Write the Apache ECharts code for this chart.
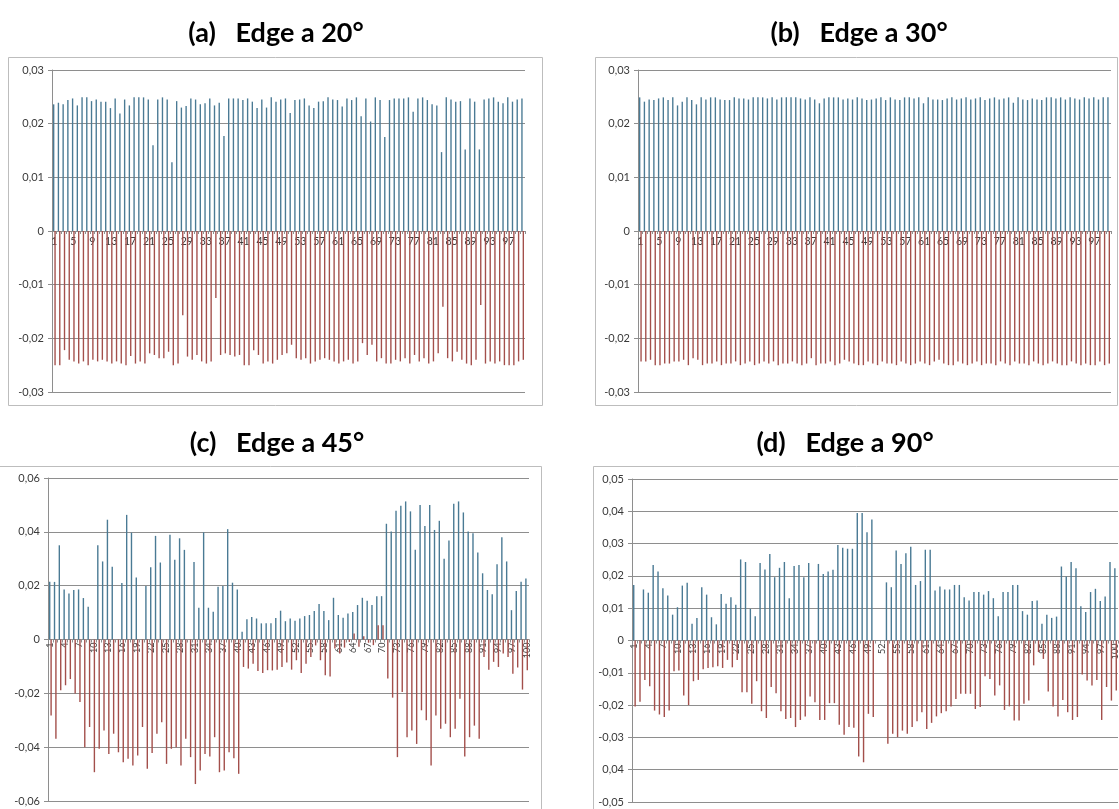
<!DOCTYPE html>
<html>
<head>
<meta charset="utf-8">
<script src="https://cdn.jsdelivr.net/npm/echarts@6/dist/echarts.min.js"></script>
<style>
  html, body { margin: 0; padding: 0; background: #ffffff; }
  #chart { width: 1119px; height: 809px; }
</style>
</head>
<body>
<div id="chart"></div>
<script>
// Category labels: sample index 1..100
const categories = Array.from({ length: 100 }, (_, i) => String(i + 1));

// Panel titles
const titles = ['(a)   Edge a 20°', '(b)   Edge a 30°', '(c)   Edge a 45°', '(d)   Edge a 90°'];

// Y tick labels (comma decimals)
const yTicksAB = ['-0,03', '-0,02', '-0,01', '0', '0,01', '0,02', '0,03'];
const yTicksC = ['-0,06', '-0,04', '-0,02', '0', '0,02', '0,04', '0,06'];
const yTicksD = ['-0,05', '0,04', '-0,03', '-0,02', '-0,01', '0', '0,01', '0,02', '0,03', '0,04', '0,05'];

// (a) Edge a 20°
const aPos = [
  0.0236, 0.0239, 0.0236, 0.0244, 0.0247, 0.0234, 0.0249, 0.0249, 0.0242, 0.0245,
  0.0241, 0.0241, 0.0229, 0.0247, 0.0219, 0.0245, 0.0234, 0.0249, 0.0249, 0.0249,
  0.0245, 0.0160, 0.0245, 0.0249, 0.0245, 0.0128, 0.0242, 0.0230, 0.0233, 0.0247,
  0.0245, 0.0236, 0.0238, 0.0247, 0.0234, 0.0239, 0.0177, 0.0247, 0.0247, 0.0247,
  0.0244, 0.0247, 0.0241, 0.0229, 0.0245, 0.0230, 0.0249, 0.0241, 0.0245, 0.0247,
  0.0220, 0.0244, 0.0245, 0.0247, 0.0234, 0.0229, 0.0241, 0.0242, 0.0249, 0.0245,
  0.0244, 0.0232, 0.0247, 0.0244, 0.0249, 0.0214, 0.0247, 0.0204, 0.0249, 0.0244,
  0.0175, 0.0244, 0.0247, 0.0247, 0.0247, 0.0249, 0.0222, 0.0247, 0.0249, 0.0244,
  0.0236, 0.0234, 0.0147, 0.0249, 0.0245, 0.0241, 0.0242, 0.0152, 0.0247, 0.0241,
  0.0152, 0.0245, 0.0247, 0.0249, 0.0241, 0.0238, 0.0249, 0.0241, 0.0245, 0.0247
];
const aNeg = [
  -0.0250, -0.0250, -0.0222, -0.0240, -0.0243, -0.0247, -0.0243, -0.0250, -0.0240, -0.0243,
  -0.0240, -0.0243, -0.0247, -0.0243, -0.0247, -0.0250, -0.0233, -0.0247, -0.0243, -0.0247,
  -0.0228, -0.0231, -0.0237, -0.0237, -0.0225, -0.0250, -0.0247, -0.0157, -0.0234, -0.0240,
  -0.0231, -0.0243, -0.0247, -0.0243, -0.0125, -0.0231, -0.0228, -0.0231, -0.0234, -0.0231,
  -0.0250, -0.0250, -0.0222, -0.0231, -0.0247, -0.0243, -0.0247, -0.0240, -0.0231, -0.0228,
  -0.0212, -0.0237, -0.0240, -0.0237, -0.0247, -0.0243, -0.0240, -0.0237, -0.0240, -0.0243,
  -0.0247, -0.0243, -0.0240, -0.0247, -0.0243, -0.0209, -0.0231, -0.0212, -0.0243, -0.0237,
  -0.0247, -0.0247, -0.0240, -0.0243, -0.0237, -0.0247, -0.0231, -0.0243, -0.0237, -0.0247,
  -0.0243, -0.0228, -0.0141, -0.0237, -0.0243, -0.0225, -0.0240, -0.0247, -0.0250, -0.0240,
  -0.0138, -0.0247, -0.0243, -0.0247, -0.0243, -0.0250, -0.0250, -0.0250, -0.0243, -0.0240
];

// (b) Edge a 30°
const bPos = [
  0.0249, 0.0241, 0.0245, 0.0244, 0.0247, 0.0249, 0.0244, 0.0249, 0.0234, 0.0241,
  0.0249, 0.0244, 0.0236, 0.0249, 0.0245, 0.0249, 0.0249, 0.0245, 0.0244, 0.0244,
  0.0249, 0.0247, 0.0247, 0.0245, 0.0249, 0.0249, 0.0249, 0.0247, 0.0249, 0.0245,
  0.0249, 0.0249, 0.0249, 0.0249, 0.0247, 0.0245, 0.0249, 0.0245, 0.0238, 0.0247,
  0.0249, 0.0249, 0.0249, 0.0245, 0.0247, 0.0245, 0.0249, 0.0247, 0.0244, 0.0245,
  0.0247, 0.0249, 0.0244, 0.0249, 0.0245, 0.0244, 0.0249, 0.0249, 0.0247, 0.0249,
  0.0238, 0.0249, 0.0245, 0.0245, 0.0244, 0.0247, 0.0249, 0.0245, 0.0247, 0.0249,
  0.0245, 0.0247, 0.0249, 0.0244, 0.0247, 0.0249, 0.0245, 0.0247, 0.0249, 0.0239,
  0.0249, 0.0245, 0.0244, 0.0247, 0.0245, 0.0244, 0.0249, 0.0249, 0.0247, 0.0249,
  0.0245, 0.0249, 0.0247, 0.0245, 0.0249, 0.0247, 0.0249, 0.0245, 0.0249, 0.0249
];
const bNeg = [
  -0.0243, -0.0243, -0.0240, -0.0250, -0.0250, -0.0247, -0.0247, -0.0243, -0.0243, -0.0240,
  -0.0250, -0.0237, -0.0240, -0.0250, -0.0247, -0.0247, -0.0243, -0.0250, -0.0247, -0.0247,
  -0.0243, -0.0250, -0.0247, -0.0243, -0.0250, -0.0247, -0.0243, -0.0247, -0.0243, -0.0250,
  -0.0247, -0.0247, -0.0243, -0.0247, -0.0250, -0.0247, -0.0237, -0.0250, -0.0247, -0.0247,
  -0.0243, -0.0250, -0.0247, -0.0240, -0.0243, -0.0247, -0.0250, -0.0250, -0.0243, -0.0247,
  -0.0250, -0.0243, -0.0247, -0.0247, -0.0250, -0.0243, -0.0247, -0.0250, -0.0247, -0.0243,
  -0.0247, -0.0250, -0.0243, -0.0240, -0.0247, -0.0250, -0.0250, -0.0243, -0.0247, -0.0250,
  -0.0247, -0.0243, -0.0250, -0.0247, -0.0247, -0.0250, -0.0243, -0.0247, -0.0250, -0.0243,
  -0.0247, -0.0247, -0.0250, -0.0243, -0.0247, -0.0250, -0.0247, -0.0243, -0.0247, -0.0250,
  -0.0250, -0.0243, -0.0247, -0.0250, -0.0247, -0.0250, -0.0250, -0.0243, -0.0250, -0.0247
];

// (c) Edge a 45°
const cPos = [
  0.0215, 0.0214, 0.0350, 0.0186, 0.0171, 0.0184, 0.0186, 0.0154, 0.0122, null,
  0.0350, 0.0290, 0.0445, 0.0270, null, 0.0210, 0.0463, 0.0397, 0.0230, null,
  0.0199, 0.0268, 0.0385, 0.0286, null, 0.0389, 0.0296, 0.0376, 0.0333, null,
  0.0288, 0.0118, 0.0398, 0.0118, 0.0103, 0.0196, 0.0199, 0.0410, 0.0211, 0.0186,
  0.0029, 0.0075, 0.0084, 0.0078, 0.0060, 0.0060, 0.0060, 0.0080, 0.0107, 0.0068,
  0.0078, 0.0070, 0.0078, 0.0087, 0.0091, 0.0106, 0.0132, 0.0106, 0.0072, 0.0155,
  0.0091, 0.0081, 0.0097, 0.0102, 0.0128, 0.0155, 0.0144, 0.0128, 0.0161, 0.0161,
  0.0430, 0.0401, 0.0478, 0.0497, 0.0513, 0.0476, 0.0333, 0.0500, 0.0422, 0.0500,
  0.0407, 0.0441, 0.0300, 0.0368, 0.0504, 0.0513, 0.0472, 0.0401, 0.0395, 0.0323,
  0.0246, 0.0184, 0.0168, 0.0280, 0.0380, 0.0290, 0.0109, 0.0180, 0.0215, 0.0227
];
const cNeg = [
  -0.0282, -0.0369, -0.0189, -0.0170, -0.0147, -0.0201, -0.0232, -0.0400, -0.0325, -0.0493,
  -0.0406, -0.0338, -0.0425, -0.0350, -0.0419, -0.0456, -0.0443, -0.0468, -0.0431, -0.0325,
  -0.0480, -0.0422, -0.0350, -0.0307, -0.0462, -0.0406, -0.0400, -0.0468, -0.0369, -0.0437,
  -0.0537, -0.0487, -0.0425, -0.0435, -0.0363, -0.0493, -0.0487, -0.0419, -0.0441, -0.0499,
  -0.0102, -0.0108, -0.0090, -0.0117, -0.0124, -0.0114, -0.0115, -0.0112, -0.0102, -0.0085,
  -0.0112, -0.0077, -0.0124, -0.0090, -0.0065, -0.0022, -0.0077, -0.0133, -0.0137, -0.0033,
  -0.0052, -0.0030, -0.0009, 0.0022, -0.0027, 0.0012, -0.0012, -0.0021, 0.0053, 0.0053,
  -0.0145, -0.0216, -0.0437, -0.0195, -0.0363, -0.0338, -0.0388, -0.0263, -0.0300, -0.0468,
  -0.0282, -0.0332, -0.0313, -0.0363, -0.0332, -0.0220, -0.0435, -0.0363, -0.0320, -0.0369,
  -0.0065, -0.0112, -0.0083, -0.0102, -0.0052, -0.0065, -0.0127, -0.0104, -0.0186, -0.0114
];

// (d) Edge a 90°
const dPos = [
  0.0172, null, 0.0158, 0.0148, 0.0234, 0.0214, 0.0162, 0.0139, 0.0080, 0.0103,
  0.0170, 0.0179, 0.0052, 0.0070, 0.0165, 0.0142, 0.0072, 0.0050, 0.0144, 0.0114,
  0.0134, 0.0111, 0.0251, 0.0243, 0.0098, 0.0075, 0.0240, 0.0220, 0.0268, 0.0196,
  0.0225, 0.0243, 0.0131, 0.0231, 0.0234, 0.0196, 0.0240, null, 0.0237, 0.0206,
  0.0214, 0.0219, 0.0296, 0.0287, 0.0284, 0.0284, 0.0395, 0.0395, 0.0335, 0.0375,
  null, null, 0.0180, 0.0165, 0.0279, 0.0237, 0.0270, 0.0290, 0.0172, 0.0184,
  0.0281, 0.0281, 0.0155, 0.0167, 0.0158, 0.0158, 0.0172, 0.0172, 0.0134, 0.0124,
  0.0150, 0.0150, 0.0142, 0.0153, 0.0131, 0.0075, 0.0150, 0.0150, 0.0172, 0.0172,
  0.0091, 0.0080, 0.0122, 0.0124, 0.0052, 0.0080, 0.0070, 0.0074, 0.0229, 0.0198,
  0.0243, 0.0224, 0.0106, 0.0088, 0.0150, 0.0160, 0.0122, 0.0136, 0.0243, 0.0224
];
const dNeg = [
  -0.0204, -0.0190, -0.0122, -0.0142, -0.0217, -0.0229, -0.0237, -0.0217, -0.0095, -0.0093,
  -0.0170, -0.0200, -0.0126, -0.0122, -0.0089, -0.0085, -0.0083, -0.0080, -0.0085, -0.0060,
  -0.0083, -0.0060, -0.0160, -0.0160, -0.0196, -0.0126, -0.0219, -0.0240, -0.0144, -0.0163,
  -0.0219, -0.0243, -0.0240, -0.0268, -0.0246, -0.0235, -0.0173, -0.0191, -0.0246, -0.0246,
  -0.0194, -0.0194, -0.0261, -0.0292, -0.0268, -0.0270, -0.0359, -0.0377, -0.0227, -0.0237,
  null, null, -0.0320, -0.0289, -0.0299, -0.0279, -0.0289, -0.0268, -0.0250, -0.0222,
  -0.0274, -0.0255, -0.0235, -0.0225, -0.0219, -0.0204, -0.0181, -0.0165, -0.0165, -0.0165,
  -0.0212, -0.0206, -0.0111, -0.0119, -0.0170, -0.0139, -0.0215, -0.0204, -0.0248, -0.0248,
  -0.0196, -0.0186, -0.0077, -0.0036, -0.0057, -0.0158, -0.0204, -0.0235, -0.0184, -0.0222,
  -0.0246, -0.0237, -0.0105, -0.0124, -0.0139, -0.0122, -0.0246, -0.0144, -0.0186, -0.0155
];

// Layout and styling for each of the four small charts
const panels = [
  { title: titles[0], pos: aPos, neg: aNeg, ticks: yTicksAB, min: -0.03, max: 0.03, step: 0.01,
    grid: { left: 52, top: 70, width: 473, height: 322 }, box: [8, 57, 534, 348],
    titleAt: [276, 33], labelEvery: 3, rotate: 0 },
  { title: titles[1], pos: bPos, neg: bNeg, ticks: yTicksAB, min: -0.03, max: 0.03, step: 0.01,
    grid: { left: 638, top: 70, width: 473, height: 322 }, box: [595, 57, 522, 348],
    titleAt: [859, 33], labelEvery: 3, rotate: 0 },
  { title: titles[2], pos: cPos, neg: cNeg, ticks: yTicksC, min: -0.06, max: 0.06, step: 0.02,
    grid: { left: 48, top: 478, width: 481, height: 323 }, box: [-2, 466, 543, 360],
    titleAt: [277, 443], labelEvery: 2, rotate: 90 },
  { title: titles[3], pos: dPos, neg: dNeg, ticks: yTicksD, min: -0.05, max: 0.05, step: 0.01,
    grid: { left: 632, top: 479, width: 486, height: 323 }, box: [593, 466, 540, 360],
    titleAt: [845, 443], labelEvery: 2, rotate: 90 }
];

const BLUE = '#4A7A94';
const RED = '#A34F4B';
const GRID_GRAY = '#8E8E8E';
const TEXT = '#3A3A3A';
const FONT = 'Lato, "Liberation Sans", sans-serif';

const option = {
  animation: false,
  backgroundColor: '#ffffff',
  grid: [],
  xAxis: [],
  yAxis: [],
  series: [],
  graphic: []
};

panels.forEach((p, i) => {
  option.grid.push(Object.assign({ outerBoundsMode: 'none', containLabel: false }, p.grid));

  // category axis crosses the value axis at 0: shift it up from the grid bottom
  const zeroShift = -p.grid.height * (0 - p.min) / (p.max - p.min);

  option.xAxis.push({
    type: 'category',
    gridIndex: i,
    data: categories,
    position: 'bottom',
    offset: zeroShift,
    boundaryGap: true,
    axisLine: { onZero: false, lineStyle: { color: GRID_GRAY, width: 1 } },
    axisTick: { show: true, interval: 0, length: 3, lineStyle: { color: GRID_GRAY } },
    axisLabel: {
      interval: p.labelEvery,
      rotate: p.rotate,
      margin: p.rotate ? 3 : 5,
      color: TEXT,
      fontFamily: FONT,
      fontSize: p.rotate ? 9 : 10.5
    },
    splitLine: { show: false }
  });

  option.yAxis.push({
    type: 'value',
    gridIndex: i,
    min: p.min,
    max: p.max,
    interval: p.step,
    axisLine: { show: true, lineStyle: { color: GRID_GRAY, width: 1 } },
    axisTick: { show: true, length: 4, lineStyle: { color: GRID_GRAY } },
    splitLine: { show: true, lineStyle: { color: GRID_GRAY, width: 1 } },
    axisLabel: {
      margin: 8,
      color: TEXT,
      fontFamily: FONT,
      fontSize: 11,
      formatter: (v) => p.ticks[Math.round((v - p.min) / p.step)]
    }
  });

  option.series.push({
    type: 'bar',
    xAxisIndex: i,
    yAxisIndex: i,
    data: p.pos,
    barGap: '0%',
    barCategoryGap: '42%',
    itemStyle: { color: BLUE },
    emphasis: { disabled: true }
  });
  option.series.push({
    type: 'bar',
    xAxisIndex: i,
    yAxisIndex: i,
    data: p.neg,
    barGap: '0%',
    barCategoryGap: '42%',
    itemStyle: { color: RED },
    emphasis: { disabled: true }
  });

  // chart frame
  option.graphic.push({
    type: 'rect',
    silent: true,
    z: -1,
    shape: { x: p.box[0] + 0.5, y: p.box[1] + 0.5, width: p.box[2], height: p.box[3] },
    style: { fill: null, stroke: '#BDBDBD', lineWidth: 1 }
  });
  // panel heading
  option.graphic.push({
    type: 'text',
    silent: true,
    x: p.titleAt[0],
    y: p.titleAt[1],
    style: {
      text: p.title,
      fill: '#000000',
      font: 'bold 27px ' + FONT,
      textAlign: 'center',
      textVerticalAlign: 'middle'
    }
  });
});

const chart = echarts.init(document.getElementById('chart'), null, { renderer: 'canvas' });
chart.setOption(option);
</script>
</body>
</html>
